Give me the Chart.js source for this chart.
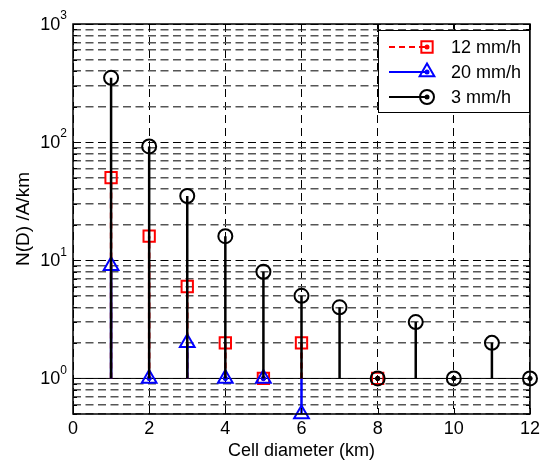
<!DOCTYPE html>
<html lang="en">
<head>
  <meta charset="UTF-8">
  <title>Cell diameter distribution</title>
  <style>
    html, body { margin: 0; padding: 0; background: #fff; }
    canvas { display: block; }
  </style>
</head>
<body>
  <canvas id="chart" width="544" height="464"></canvas>

  <script src="https://cdn.jsdelivr.net/npm/chart.js"></script>
  <script>
    // cell diameter (km)
    const XS = [1, 2, 3, 4, 5, 6, 7, 8, 9, 10, 11, 12];
    // N(D) per rain rate, null = no cell of that size
    const RAIN_12MM = [50, 16, 6, 2, 1, 2, null, 1, null, null, null, null];
    const RAIN_20MM = [9, 1, 2, 1, 1, 0.5, null, null, null, null, null, null];
    const RAIN_3MM = [350, 92, 35, 16, 8, 5, 4, 1, 3, 1, 2, 1];
    const SERIES_LABELS = ['12 mm/h', '20 mm/h', '3 mm/h'];

    const BASELINE = 1;
    const X_MIN = 0, X_MAX = 12, X_STEP = 2;
    const Y_MIN = 0.5, Y_MAX = 1000;
    const Y_TICK_EXPONENTS = [0, 1, 2, 3];
    const Y_MANTISSAS = [1, 2, 3, 4, 5, 6, 7, 8, 9];
    const Y_DECADES = [-1, 0, 1, 2, 3];

    const FONT = '"Liberation Sans", Arial, sans-serif';

    // minor + major log gridlines inside the axis range
    const Y_GRID = [];
    Y_DECADES.forEach(e => Y_MANTISSAS.forEach(m => {
      const v = m * Math.pow(10, e);
      if (v >= Y_MIN - 1e-9 && v <= Y_MAX + 1e-9) Y_GRID.push(v);
    }));
    const isDecade = v => Math.abs(Math.log10(v) - Math.round(Math.log10(v))) < 1e-9;

    function stemPoints(ys) {
      const pts = [];
      XS.forEach((x, i) => {
        if (ys[i] == null) return;
        pts.push({x: x, y: BASELINE}, {x: x, y: ys[i]}, {x: x, y: null});
      });
      return pts;
    }
    function headPoints(ys) {
      return XS.map((x, i) => ({x: x, y: ys[i]})).filter(p => p.y != null);
    }
    // zero-length stems show up as a dot in matlab
    function dotPoints(ys) {
      return headPoints(ys).filter(p => p.y === BASELINE);
    }

    const series = [
      {label: SERIES_LABELS[0], data: RAIN_12MM, color: '#ff0000', dash: [6, 4], marker: 'rect', radius: 8, order: 20},
      {label: SERIES_LABELS[1], data: RAIN_20MM, color: '#0000ff', dash: [], marker: 'triangle', radius: 8.5, order: 10},
      {label: SERIES_LABELS[2], data: RAIN_3MM, color: '#000000', dash: [], marker: 'circle', radius: 7, order: 0}
    ];

    const datasets = [{
      data: [{x: X_MIN, y: BASELINE}, {x: X_MAX, y: BASELINE}],
      borderColor: '#000', borderWidth: 1, pointRadius: 0, order: 100
    }];
    series.forEach(s => {
      datasets.push({
        data: stemPoints(s.data), borderColor: s.color, borderWidth: 2.5,
        borderDash: s.dash, pointRadius: 0, spanGaps: false, order: s.order + 3
      });
      datasets.push({
        data: dotPoints(s.data), showLine: false, pointStyle: 'circle', pointRadius: 2.2,
        pointBorderWidth: 1, pointBorderColor: s.color, pointBackgroundColor: s.color,
        clip: false, order: s.order + 2
      });
      datasets.push({
        data: headPoints(s.data), showLine: false, pointStyle: s.marker, pointRadius: s.radius,
        pointBorderWidth: 2, pointBorderColor: s.color, pointBackgroundColor: 'rgba(0,0,0,0)',
        clip: false, order: s.order + 1
      });
    });

    function drawMarker(ctx, style, x, y, r, color) {
      ctx.save();
      ctx.strokeStyle = color; ctx.lineWidth = 2; ctx.setLineDash([]);
      ctx.beginPath();
      if (style === 'circle') {
        ctx.arc(x, y, r, 0, Math.PI * 2);
      } else if (style === 'rect') {
        const h = r * Math.SQRT1_2;
        ctx.rect(x - h, y - h, 2 * h, 2 * h);
      } else {
        for (let k = 0; k < 3; k++) {
          const a = k * 2 * Math.PI / 3;
          ctx.lineTo(x + Math.sin(a) * r, y - Math.cos(a) * r);
        }
        ctx.closePath();
      }
      ctx.stroke();
      ctx.fillStyle = color;
      ctx.beginPath(); ctx.arc(x, y, 2.5, 0, Math.PI * 2); ctx.fill();
      ctx.restore();
    }

    const matlabFrame = {
      id: 'matlabFrame',
      afterDraw(chart) {
        const {ctx, chartArea: a, scales: {x, y}} = chart;
        ctx.save();

        // inward ticks
        ctx.strokeStyle = '#000';
        ctx.lineWidth = 1;
        ctx.beginPath();
        for (let v = X_MIN; v <= X_MAX; v += X_STEP) {
          const px = Math.round(x.getPixelForValue(v)) + 0.5;
          ctx.moveTo(px, a.bottom); ctx.lineTo(px, a.bottom - 6);
          ctx.moveTo(px, a.top); ctx.lineTo(px, a.top + 6);
        }
        Y_GRID.forEach(v => {
          const py = Math.round(y.getPixelForValue(v)) + 0.5;
          const len = isDecade(v) ? 7 : 4;
          ctx.moveTo(a.left, py); ctx.lineTo(a.left + len, py);
          ctx.moveTo(a.right, py); ctx.lineTo(a.right - len, py);
        });
        ctx.stroke();

        // axes box
        ctx.lineWidth = 1.5;
        ctx.strokeRect(a.left, a.top, a.right - a.left, a.bottom - a.top);

        // y tick labels 10^n
        ctx.fillStyle = '#000';
        ctx.textBaseline = 'middle';
        Y_TICK_EXPONENTS.forEach(e => {
          const py = y.getPixelForValue(Math.pow(10, e));
          ctx.font = '12px ' + FONT;
          const sw = ctx.measureText(String(e)).width;
          ctx.font = '18px ' + FONT;
          const bw = ctx.measureText('10').width;
          const right = a.left - 6;
          ctx.textAlign = 'left';
          ctx.fillText('10', right - sw - bw, py + 1);
          ctx.font = '12px ' + FONT;
          ctx.fillText(String(e), right - sw, py - 8);
        });

        // legend
        const lx = 378, ly = 30, lw = 151, lh = 82;
        ctx.fillStyle = '#fff';
        ctx.fillRect(lx, ly, lw, lh);
        ctx.lineWidth = 1;
        ctx.strokeStyle = '#000';
        ctx.strokeRect(lx + 0.5, ly + 0.5, lw, lh);
        series.forEach((s, i) => {
          const ry = ly + 17 + i * 25;
          ctx.strokeStyle = s.color;
          ctx.lineWidth = 2;
          ctx.setLineDash(s.dash);
          ctx.beginPath(); ctx.moveTo(lx + 11, ry); ctx.lineTo(lx + 49, ry); ctx.stroke();
          ctx.setLineDash([]);
          drawMarker(ctx, s.marker, lx + 49, ry, s.radius, s.color);
          ctx.fillStyle = '#000';
          ctx.font = '18px ' + FONT;
          ctx.textAlign = 'left';
          ctx.textBaseline = 'middle';
          ctx.fillText(s.label, lx + 73, ry + 1);
        });

        ctx.restore();
      }
    };

    new Chart(document.getElementById('chart'), {
      type: 'line',
      data: {datasets: datasets},
      options: {
        responsive: false,
        animation: false,
        layout: {padding: {top: 24, right: 12, left: 0, bottom: 0}},
        plugins: {legend: {display: false}, tooltip: {enabled: false}},
        scales: {
          x: {
            type: 'linear', min: X_MIN, max: X_MAX,
            ticks: {stepSize: X_STEP, color: '#000', font: {family: FONT, size: 18}, padding: 4, maxRotation: 0},
            grid: {color: '#000', lineWidth: 1, drawTicks: false},
            border: {display: false, dash: [8, 5]},
            title: {display: true, text: 'Cell diameter (km)', color: '#000', font: {family: FONT, size: 18}, padding: {top: 0, bottom: 2}},
            afterFit: s => { s.height = 50; }
          },
          y: {
            type: 'logarithmic', min: Y_MIN, max: Y_MAX,
            ticks: {display: false},
            grid: {
              color: c => isDecade(c.tick.value) ? '#000' : '#555',
              lineWidth: c => isDecade(c.tick.value) ? 1 : 1.5,
              drawTicks: false
            },
            border: {display: false, dash: [8, 4.5]},
            title: {display: true, text: 'N(D) /A/km', color: '#000', font: {family: FONT, size: 19}, padding: {top: 12, bottom: 0}},
            afterBuildTicks: s => { s.ticks = Y_GRID.map(v => ({value: v})); },
            afterFit: s => { s.width = 73; }
          }
        }
      },
      plugins: [matlabFrame]
    });
  </script>
</body>
</html>
